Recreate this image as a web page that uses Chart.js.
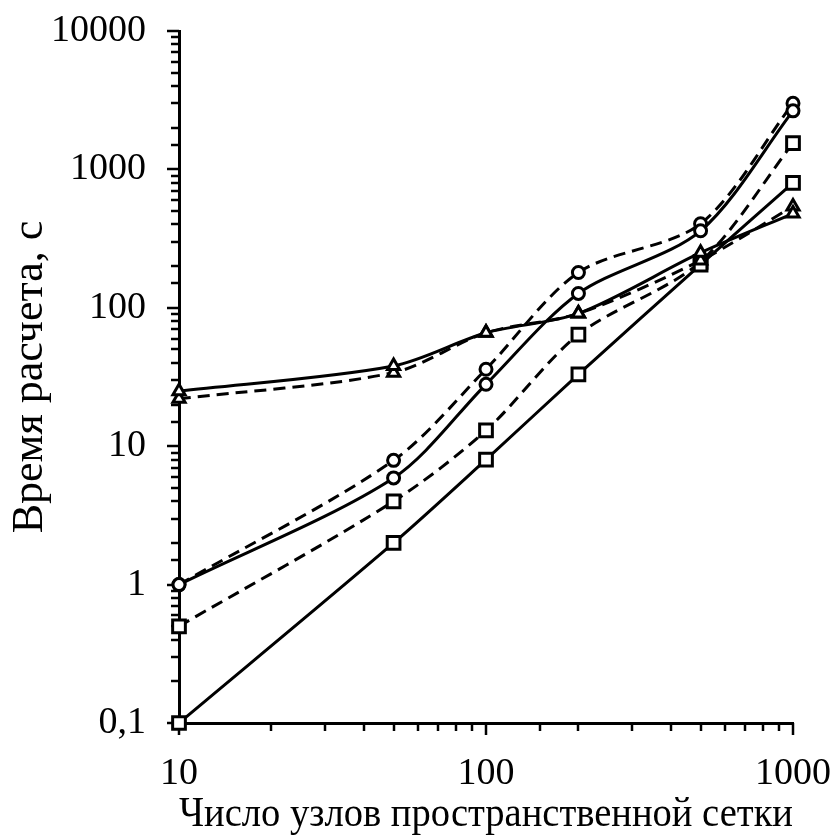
<!DOCTYPE html>
<html><head><meta charset="utf-8">
<script src="https://cdn.jsdelivr.net/npm/chart.js@4"></script>
<style>html,body{margin:0;padding:0;background:#fff}#wrap{width:833px;height:838px}</style>
</head><body><div id="wrap"><canvas id="c" width="833" height="838"></canvas></div>
<script>
const nodes = [10, 50, 100, 200, 500, 1000];
const triSolid = [25, 38, 66, 91, 250, 480];
const triDashed = [22, 34, 66, 91, 220, 540];
const circSolid = [1, 5.9, 28, 127, 360, 2650];
const circDashed = [1, 7.9, 36, 180, 405, 3000];
const sqSolid = [0.1, 2, 8, 33, 205, 800];
const sqDashed = [0.5, 4, 13, 64, 215, 1550];
const xTickLabels = ['10', '100', '1000'];
const yTickLabels = ['0,1', '1', '10', '100', '1000', '10000'];
const xTitle = 'Число узлов пространственной сетки';
const yTitle = 'Время расчета, с';

function isPow10(v) { const e = Math.log10(v); return Math.abs(e - Math.round(e)) < 1e-6; }

function ds(vals, style, dashed, r) {
  return {
    data: nodes.map((x, i) => ({x: x, y: vals[i]})),
    borderColor: '#000', borderWidth: 3,
    borderDash: dashed ? [12, 7] : [],
    pointStyle: style, pointRadius: r, pointHoverRadius: r,
    pointBorderWidth: 3, pointBackgroundColor: '#fff', pointBorderColor: '#000',
    tension: 0.3, clip: false, fill: false
  };
}

const tickPlugin = {
  id: 'axisTicks',
  beforeDatasetsDraw(chart) {
    const ctx = chart.ctx, xs = chart.scales.x, ys = chart.scales.y, ca = chart.chartArea;
    ctx.save();
    ctx.strokeStyle = '#000';
    ctx.lineWidth = 2.5;
    ys.ticks.forEach(t => {
      const y = Math.round(ys.getPixelForValue(t.value));
      const len = isPow10(t.value) ? 12 : 8;
      ctx.beginPath(); ctx.moveTo(ca.left - len, y); ctx.lineTo(ca.left, y); ctx.stroke();
    });
    xs.ticks.forEach(t => {
      const x = Math.round(xs.getPixelForValue(t.value));
      const len = isPow10(t.value) ? 12 : 8;
      ctx.beginPath(); ctx.moveTo(x, ca.bottom); ctx.lineTo(x, ca.bottom + len); ctx.stroke();
    });
    ctx.restore();
  }
};

Chart.defaults.font.family = "'Liberation Serif', 'Times New Roman', serif";
Chart.defaults.font.size = 38;
Chart.defaults.color = '#000';

new Chart(document.getElementById('c'), {
  type: 'line',
  data: {
    datasets: [
      ds(triSolid, 'triangle', false, 7),
      ds(triDashed, 'triangle', true, 7),
      ds(circSolid, 'circle', false, 6),
      ds(circDashed, 'circle', true, 6),
      ds(sqSolid, 'rect', false, 9),
      ds(sqDashed, 'rect', true, 9)
    ]
  },
  options: {
    responsive: false, animation: false, devicePixelRatio: 1,
    layout: {padding: {top: 31, right: 40, left: 0, bottom: 0}},
    plugins: {legend: {display: false}, tooltip: {enabled: false}},
    scales: {
      x: {
        type: 'logarithmic', min: 10, max: 1000,
        grid: {display: false, drawTicks: false},
        border: {display: true, color: '#000', width: 3},
        ticks: {
          autoSkip: false, maxRotation: 0, padding: 28,
          callback: v => isPow10(v) ? xTickLabels[Math.round(Math.log10(v)) - 1] : ''
        },
        title: {display: true, text: xTitle, font: {size: 42, lineHeight: 1.1}, padding: {top: 0, bottom: 0}},
        afterFit: s => { s.height = 115; s.paddingLeft = 0; s.paddingRight = 0; }
      },
      y: {
        type: 'logarithmic', min: 0.1, max: 10000,
        grid: {display: false, drawTicks: false},
        border: {display: true, color: '#000', width: 3},
        ticks: {
          autoSkip: false, padding: 33,
          callback: v => isPow10(v) ? yTickLabels[Math.round(Math.log10(v)) + 1] : ''
        },
        title: {display: true, text: yTitle, font: {size: 44, lineHeight: 1.1}, padding: {top: 6, bottom: 0}},
        afterFit: s => { s.width = 179; s.paddingTop = 0; s.paddingBottom = 0; }
      }
    }
  },
  plugins: [tickPlugin]
});
</script></body></html>
